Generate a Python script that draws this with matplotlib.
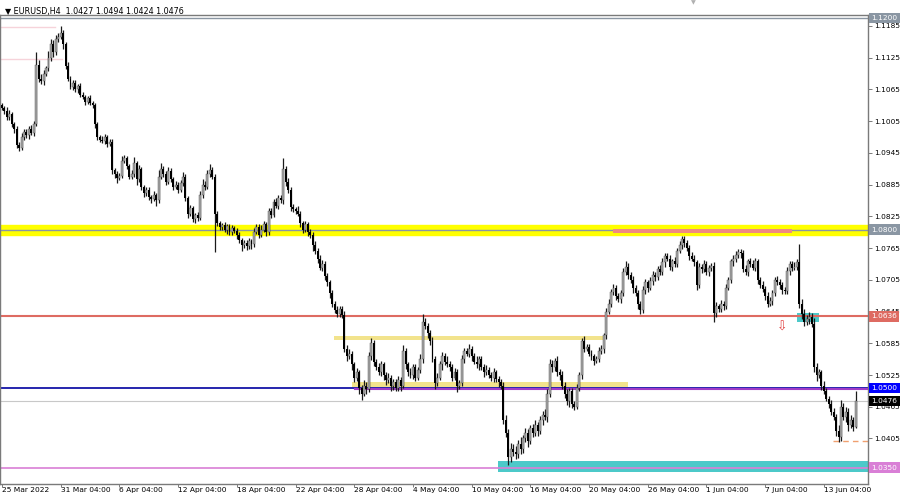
import numpy as np
import matplotlib.pyplot as plt

plt.rcParams["font.family"] = ["DejaVu Sans"]

# H4 closes, price * 10000
closes = [
    11030, 11025, 11012, 11018, 11000, 10990, 10960, 10955, 10975, 10985,
    10978, 10990, 10982, 11000, 11112, 11085, 11080, 11095, 11105, 11125,
    11150, 11135, 11160, 11165, 11172, 11150, 11110, 11085, 11070, 11078,
    11065, 11072, 11055, 11050, 11042, 11048, 11040, 11035, 11000, 10975,
    10970, 10968, 10975, 10962, 10966, 10912, 10905, 10898, 10902, 10930,
    10935, 10920, 10900, 10905, 10925, 10895, 10915, 10880, 10870, 10875,
    10862, 10858, 10866, 10855, 10900, 10915, 10905, 10890, 10910, 10895,
    10880, 10885, 10875, 10888, 10900, 10860, 10830, 10840, 10820, 10828,
    10822, 10865, 10885, 10880, 10905, 10912, 10900, 10830, 10812, 10805,
    10808, 10800, 10806, 10795, 10803, 10798, 10790, 10780, 10770, 10775,
    10768, 10778, 10772, 10795, 10805, 10790, 10800, 10810, 10795, 10835,
    10828, 10852, 10845, 10860, 10855, 10915, 10890, 10875, 10842, 10838,
    10836, 10830, 10812, 10800, 10810, 10795, 10790, 10770, 10760, 10745,
    10728, 10735, 10712, 10700, 10680, 10660, 10648, 10640, 10650, 10638,
    10575, 10560, 10565, 10545, 10520, 10530, 10500, 10490, 10505, 10498,
    10560, 10585, 10550, 10540, 10530, 10545, 10525, 10515, 10520, 10505,
    10512, 10500, 10515, 10505, 10570, 10545, 10530, 10525, 10540, 10520,
    10535, 10555, 10625, 10618, 10605, 10590, 10555, 10510, 10520, 10545,
    10560, 10550, 10545, 10540, 10520, 10530, 10505, 10510, 10555, 10570,
    10565, 10575, 10560, 10550, 10545, 10555, 10540, 10530, 10535, 10525,
    10520, 10530, 10518, 10512, 10505, 10440, 10415, 10370, 10385, 10380,
    10375, 10395, 10385, 10405, 10415, 10400, 10425, 10415, 10430, 10420,
    10440, 10450, 10445, 10490, 10545, 10540, 10552, 10530, 10525, 10505,
    10490, 10475, 10495, 10470, 10465, 10500, 10525, 10590, 10575, 10578,
    10565, 10560, 10552, 10555, 10570, 10575, 10600, 10645, 10660, 10682,
    10690, 10675, 10668, 10680, 10720, 10730, 10715, 10705, 10690, 10680,
    10660, 10648, 10685, 10700, 10690, 10702, 10715, 10710, 10725, 10720,
    10738, 10750, 10745, 10730, 10740, 10735, 10760, 10770, 10782, 10775,
    10765, 10750, 10745, 10738, 10695, 10730, 10725, 10735, 10720, 10728,
    10732, 10642, 10655, 10650, 10660, 10655, 10690, 10705, 10740, 10745,
    10752, 10758, 10755, 10725, 10720, 10740, 10735, 10728, 10740, 10705,
    10695, 10688, 10675, 10660, 10665, 10680, 10705, 10700, 10695, 10685,
    10684, 10722, 10735, 10728, 10730, 10738, 10660, 10640, 10625, 10630,
    10635, 10622, 10540, 10525, 10530, 10505, 10495, 10480, 10470, 10455,
    10445, 10420, 10408, 10465, 10445, 10455, 10430, 10440, 10427, 10476,
]
first_open = 11035

# wick lengths in pips above / below the body
wick_up = [
    5, 4, 6, 8, 5, 4, 6, 5, 8, 6,  6, 5, 7, 5, 24, 8, 10, 6, 5, 12,
    10, 8, 7, 6, 12, 6, 5, 6, 5, 4,  5, 4, 6, 5, 4, 5, 6, 4, 5, 4,
    4, 6, 5, 4, 5, 6, 4, 5, 5, 10,  6, 5, 4, 8, 12, 5, 8, 4, 5, 6,
    5, 4, 6, 4, 12, 10, 6, 5, 8, 6,  5, 6, 4, 5, 8, 5, 4, 6, 5, 4,
    6, 8, 10, 6, 8, 12, 6, 5, 6, 5,  5, 6, 4, 5, 6, 4, 5, 6, 4, 5,
    5, 6, 5, 8, 6, 5, 8, 6, 5, 6,  6, 5, 8, 6, 5, 21, 6, 8, 5, 6,
    5, 8, 6, 5, 6, 5, 6, 5, 8, 5,  6, 8, 5, 6, 5, 6, 5, 8, 6, 5,
    8, 6, 10, 6, 5, 8, 5, 6, 10, 6,  8, 10, 6, 5, 8, 6, 5, 6, 8, 5,
    6, 5, 8, 6, 12, 6, 5, 8, 6, 5,  6, 10, 15, 8, 6, 5, 6, 5, 8, 6,
    8, 6, 10, 6, 5, 8, 6, 5, 8, 6,  6, 8, 5, 6, 10, 6, 5, 6, 8, 5,
    6, 8, 5, 6, 5, 6, 10, 8, 12, 10,  10, 8, 12, 6, 10, 8, 6, 8, 10, 6,
    8, 6, 10, 8, 10, 8, 6, 8, 6, 8,  6, 8, 5, 6, 5, 8, 6, 5, 8, 6,
    6, 8, 5, 6, 8, 6, 5, 6, 8, 6,  8, 6, 5, 6, 8, 10, 6, 5, 8, 6,
    6, 5, 8, 6, 5, 8, 6, 5, 6, 8,  8, 6, 5, 6, 5, 8, 6, 8, 5, 5,
    6, 5, 8, 6, 5, 6, 5, 8, 6, 5,  5, 6, 8, 5, 6, 5, 8, 6, 5, 6,
    8, 6, 5, 6, 8, 5, 6, 8, 6, 5,  6, 8, 5, 6, 8, 6, 5, 8, 6, 5,
    6, 8, 5, 6, 8, 6, 34, 8, 10, 8,  10, 8, 10, 8, 6, 5, 8, 6, 5, 8,
    8, 6, 10, 12, 8, 10, 8, 10, 6, 18,
]
wick_dn = [
    4, 6, 5, 4, 6, 8, 5, 7, 4, 5,  5, 6, 4, 5, 4, 6, 5, 7, 4, 6,
    6, 8, 5, 6, 5, 8, 6, 4, 5, 6,  4, 6, 5, 4, 6, 5, 4, 6, 8, 6,
    5, 4, 6, 5, 4, 6, 8, 10, 5, 4,  4, 6, 5, 4, 5, 10, 6, 5, 8, 6,
    6, 8, 4, 10, 5, 4, 6, 5, 4, 6,  6, 4, 5, 4, 5, 6, 8, 5, 6, 8,
    5, 4, 6, 5, 4, 6, 5, 73, 6, 5,  6, 5, 8, 5, 6, 5, 8, 6, 10, 5,
    6, 5, 8, 5, 4, 6, 5, 4, 8, 5,  6, 5, 4, 6, 5, 6, 8, 5, 6, 5,
    6, 5, 8, 6, 5, 8, 6, 10, 6, 8,  5, 6, 8, 6, 10, 6, 5, 6, 5, 6,
    6, 8, 5, 10, 8, 6, 10, 12, 5, 8,  5, 6, 8, 6, 5, 6, 10, 8, 6, 10,
    8, 6, 5, 10, 5, 8, 6, 5, 8, 6,  5, 6, 8, 6, 10, 8, 6, 12, 6, 5,
    10, 6, 5, 8, 6, 5, 12, 6, 5, 8,  5, 6, 8, 5, 6, 10, 6, 8, 5, 6,
    6, 8, 6, 10, 6, 8, 8, 16, 10, 8,  8, 6, 10, 8, 6, 12, 6, 8, 6, 10,
    6, 10, 6, 8, 6, 10, 8, 6, 10, 6,  8, 6, 10, 8, 6, 5, 6, 8, 6, 5,
    5, 6, 8, 5, 6, 5, 8, 6, 5, 6,  6, 8, 5, 6, 5, 6, 8, 6, 10, 6,
    10, 8, 5, 6, 8, 5, 6, 8, 5, 6,  6, 8, 5, 6, 8, 5, 6, 5, 6, 8,
    6, 8, 5, 6, 10, 6, 8, 5, 6, 8,  6, 17, 8, 6, 5, 8, 6, 5, 6, 8,
    6, 5, 8, 6, 5, 8, 6, 5, 6, 8,  5, 6, 8, 6, 5, 8, 6, 5, 8, 6,
    6, 5, 8, 6, 5, 6, 8, 10, 8, 6,  8, 6, 10, 12, 6, 8, 6, 5, 8, 6,
    6, 10, 10, 8, 6, 8, 10, 6, 8, 3,
]

tick_bars = [0, 24, 48, 72, 96, 120, 144, 168, 192, 216, 240, 264, 288, 312, 336]
tick_labels = ["25 Mar 2022", "31 Mar 04:00", "6 Apr 04:00", "12 Apr 04:00",
               "18 Apr 04:00", "22 Apr 04:00", "28 Apr 04:00", "4 May 04:00",
               "10 May 04:00", "16 May 04:00", "20 May 04:00", "26 May 04:00",
               "1 Jun 04:00", "7 Jun 04:00", "13 Jun 04:00"]
price_ticks = [1.0345, 1.0405, 1.0465, 1.0525, 1.0585, 1.0645, 1.0705, 1.0765,
               1.0825, 1.0885, 1.0945, 1.1005, 1.1065, 1.1125, 1.1185]

c = np.array(closes) / 10000
o = np.array([first_open] + closes[:-1]) / 10000
hi = np.maximum(o, c) + np.array(wick_up) / 10000
lo = np.minimum(o, c) - np.array(wick_dn) / 10000
x = np.arange(len(c))
n = len(c)

fig = plt.figure(figsize=(9, 4.98), dpi=100)
ax = fig.add_axes([0.0, 14 / 498, 868 / 900, 469 / 498])

# levels and zones
ax.axhspan(1.0789, 1.0809, color="#ffff00", zorder=1)
ax.axhline(1.0800, color="#8a96a3", lw=1, zorder=2)
ax.fill_between([249.8, 323], 1.0794, 1.0802, color="#f08a80", lw=0, zorder=2)
ax.axhline(1.1200, color="#8a96a3", lw=1, zorder=2)
ax.plot([-1, 21.7], [1.1183, 1.1183], color="#f6d3da", lw=1, zorder=1)
ax.plot([-1, 24.5], [1.1123, 1.1123], color="#f6d3da", lw=1, zorder=1)
ax.fill_between([135.7, 246.5], 1.0591, 1.0598, color="#f2e38c", lw=0, zorder=1)
ax.fill_between([143.1, 255.9], 1.0502, 1.0511, color="#f2e38c", lw=0, zorder=1)
ax.axhline(1.0636, color="#de6b62", lw=1.5, zorder=2)
ax.axhline(1.0501, color="#0000a0", lw=1.2, zorder=2)
ax.plot([144.3, n + 6], [1.04985, 1.04985], color="#a03cc8", lw=1.5, zorder=2)
ax.axhline(1.0476, color="#c8c8c8", lw=0.8, zorder=1)
ax.fill_between([202.8, n + 6], 1.0341, 1.0362, color="#4cc9c9", lw=0, zorder=1)
ax.axhline(1.0350, color="#d97fd6", lw=1.2, zorder=2)
ax.fill_between([325, 334], 1.0626, 1.0643, color="#4cc9c9", lw=0, zorder=1)
ax.plot([339.7, n + 6], [1.0400, 1.0400], color="#f0a070", lw=1, ls=(0, (4, 3)), zorder=2)
ax.text(319, 1.0615, "\u21e9", color="#e04040", fontsize=9, ha="center", va="center")

# candles
up = c >= o
ax.vlines(x, lo, hi, color="#1a1a1a", lw=0.9, zorder=3)
body = np.maximum(np.abs(c - o), 0.00012)
ax.bar(x[up], body[up], bottom=o[up], width=0.8, color="#a8a8a8",
       edgecolor="#4a4a4a", lw=0.3, zorder=4)
ax.bar(x[~up], body[~up], bottom=c[~up], width=0.8, color="#000000", lw=0, zorder=4)

ax.set_xlim(-0.82, 354.05)
ax.set_ylim(1.03189, 1.12057)

ax.yaxis.tick_right()
ax.set_yticks(price_ticks)
ax.set_yticklabels([f"{p:.4f}" for p in price_ticks])
ax.set_xticks(tick_bars)
ax.set_xticklabels(tick_labels, ha="left")
ax.tick_params(axis="y", labelsize=5.3, length=3, width=0.6, color="#666666", pad=1.5)
ax.tick_params(axis="x", labelsize=5.4, length=2, width=0.6, color="#666666", pad=0.5)
for s in ax.spines.values():
    s.set_color("#7a7a7a")
    s.set_linewidth(1)

# price tags on the right scale
tags = [(1.1200, "1.1200", "#8a96a3", "white"), (1.0800, "1.0800", "#8a96a3", "white"),
        (1.0636, "1.0636", "#de6b62", "white"), (1.0500, "1.0500", "#0000ff", "white"),
        (1.0476, "1.0476", "#000000", "white"), (1.0350, "1.0350", "#d97fd6", "white")]
for y, t, bg, fg in tags:
    ax.text(1.004, y, t, transform=ax.get_yaxis_transform(), fontsize=5.3, color=fg,
            va="center", ha="left", zorder=10, clip_on=False,
            bbox=dict(boxstyle="square,pad=0.3", fc=bg, ec="none"))

fig.text(0.006, 0.985, "\u25bc EURUSD,H4  1.0427 1.0494 1.0424 1.0476", fontsize=5.8, va="top")
fig.text(0.770, 0.999, "\u25bc", fontsize=4.5, color="#b0b0b0", ha="center", va="top")

plt.savefig("out.png", dpi=100, facecolor="white")
